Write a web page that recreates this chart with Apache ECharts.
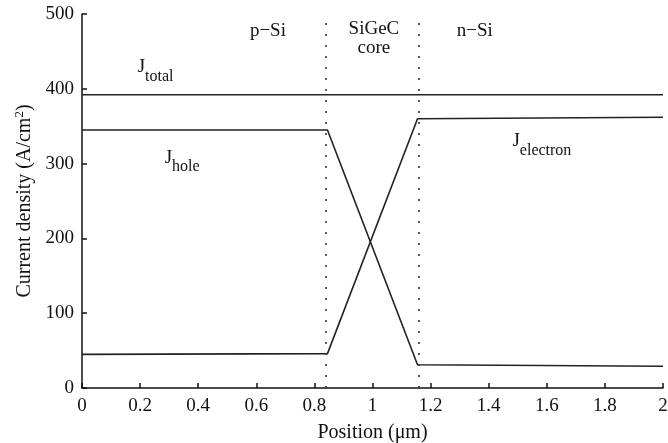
<!DOCTYPE html>
<html>
<head>
<meta charset="utf-8">
<script src="https://cdn.jsdelivr.net/npm/echarts@6/dist/echarts.min.js"></script>
<style>
  html, body { margin: 0; padding: 0; background: #fff; }
  #chart { width: 668px; height: 443px; }
</style>
</head>
<body>
<div id="chart"></div>
<script>
// positions (um) where the curves change slope
var xPos = [0, 0.845, 1.155, 2];
var jTotal = [392, 392, 392, 392];
var jHole = [345, 345, 31, 29];
var jElectron = [45, 46, 360, 362];
// layer boundaries
var junctions = [0.845, 1.155];
// annotations: [x, y, text]
var curveLabels = [
  [0.19, 429, "{m|J}{s|total}"],
  [0.283, 308, "{m|J}{s|hole}"],
  [1.48, 330, "{m|J}{s|electron}"]
];
var regionLabels = [
  [0.64, 477, "p\u2212Si"],
  [1.005, 467, "SiGeC\ncore"],
  [1.352, 477, "n\u2212Si"]
];

var font = "Liberation Serif";
var chart = echarts.init(document.getElementById("chart"));

function pairs(ys) {
  var out = [];
  for (var i = 0; i < xPos.length; i++) {
    out.push([xPos[i], ys[i]]);
  }
  return out;
}

var richSub = {
  m: { fontFamily: font, fontSize: 19, color: "#111" },
  s: { fontFamily: font, fontSize: 16, color: "#111", padding: [19, 0, 0, 0] }
};

var option = {
  animation: false,
  backgroundColor: "#fff",
  grid: { left: 82, right: 5, top: 14, bottom: 55, outerBoundsMode: "none" },
  xAxis: {
    type: "value",
    min: 0,
    max: 2,
    interval: 0.2,
    name: "Position (\u03bcm)",
    nameLocation: "middle",
    nameGap: 35,
    nameTextStyle: { fontFamily: font, fontSize: 20, color: "#111" },
    axisLine: { onZero: false, lineStyle: { color: "#111", width: 1.5 } },
    axisTick: { inside: true, length: 5, lineStyle: { color: "#111", width: 1.5 } },
    axisLabel: { fontFamily: font, fontSize: 19, color: "#111", margin: 9 },
    splitLine: { show: false }
  },
  yAxis: {
    type: "value",
    min: 0,
    max: 500,
    interval: 100,
    name: "Current density (A/cm{sup|2})",
    nameLocation: "middle",
    nameGap: 44,
    nameTextStyle: {
      fontFamily: font, fontSize: 20, color: "#111",
      rich: { sup: { fontFamily: font, fontSize: 13, color: "#111", padding: [0, 0, 11, 0] } }
    },
    axisLine: { show: true, lineStyle: { color: "#111", width: 1.5 } },
    axisTick: { show: true, inside: true, length: 5, lineStyle: { color: "#111", width: 1.5 } },
    axisLabel: { fontFamily: font, fontSize: 19, color: "#111", margin: 8 },
    splitLine: { show: false }
  },
  series: [
    {
      name: "total",
      type: "line",
      data: pairs(jTotal),
      symbol: "none",
      lineStyle: { color: "#222", width: 1.6 },
      markLine: {
        silent: true,
        symbol: ["none", "none"],
        label: { show: false },
        lineStyle: { color: "#333", width: 1.6, type: [2, 9] },
        data: junctions.map(function (x) { return { xAxis: x }; })
      },
      markPoint: {
        symbol: "circle",
        symbolSize: 1,
        itemStyle: { color: "rgba(0,0,0,0)" },
        data: curveLabels.map(function (d) {
          return {
            coord: [d[0], d[1]],
            label: { show: true, position: "right", distance: 0, formatter: d[2], rich: richSub }
          };
        }).concat(regionLabels.map(function (d) {
          return {
            coord: [d[0], d[1]],
            label: {
              show: true, position: "inside", formatter: d[2],
              fontFamily: font, fontSize: 19, color: "#111", lineHeight: 19
            }
          };
        }))
      }
    },
    {
      name: "hole",
      type: "line",
      data: pairs(jHole),
      symbol: "none",
      lineStyle: { color: "#222", width: 1.6 }
    },
    {
      name: "electron",
      type: "line",
      data: pairs(jElectron),
      symbol: "none",
      lineStyle: { color: "#222", width: 1.6 }
    }
  ]
};

chart.setOption(option);
window.addEventListener("resize", function () {
  chart.resize();
});
</script>
</body>
</html>
